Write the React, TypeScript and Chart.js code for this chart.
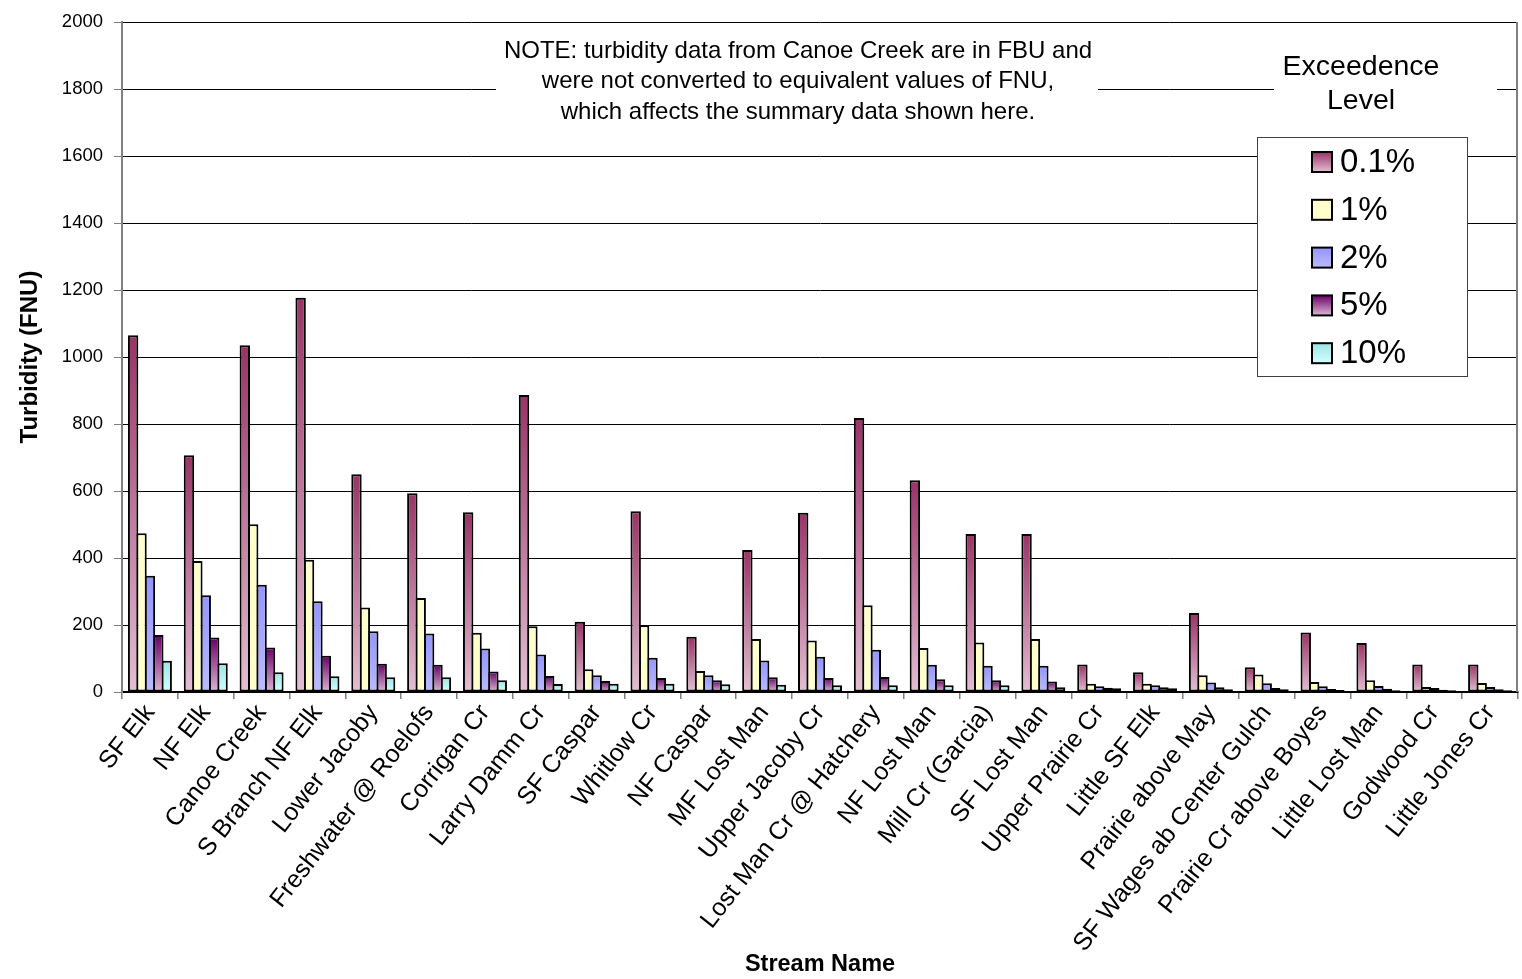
import { useEffect, useRef } from "react";
import { Chart, registerables } from "chart.js";

Chart.register(...registerables);

// Stream names along the x axis
const streams = [
  "SF Elk",
  "NF Elk",
  "Canoe Creek",
  "S Branch NF Elk",
  "Lower Jacoby",
  "Freshwater @ Roelofs",
  "Corrigan Cr",
  "Larry Damm Cr",
  "SF Caspar",
  "Whitlow Cr",
  "NF Caspar",
  "MF Lost Man",
  "Upper Jacoby Cr",
  "Lost Man Cr @ Hatchery",
  "NF Lost Man",
  "Mill Cr (Garcia)",
  "SF Lost Man",
  "Upper Prairie Cr",
  "Little SF Elk",
  "Prairie above May",
  "SF Wages ab Center Gulch",
  "Prairie Cr above Boyes",
  "Little Lost Man",
  "Godwood Cr",
  "Little Jones Cr",
];

// Turbidity (FNU) at each exceedence level
const exceed01 = [1065, 707, 1035, 1177, 650, 593, 537, 887, 210, 540, 165, 424, 535, 818, 632, 472, 472, 82, 59, 236, 74, 178, 146, 82, 82];
const exceed1 = [474, 391, 501, 395, 252, 281, 177, 196, 68, 199, 63, 158, 154, 259, 131, 148, 158, 25, 25, 50, 52, 30, 35, 15, 27];
const exceed2 = [347, 289, 320, 271, 181, 175, 130, 112, 50, 102, 50, 94, 105, 126, 81, 78, 78, 17, 20, 28, 26, 17, 18, 12, 15];
const exceed5 = [170, 163, 133, 108, 84, 81, 61, 48, 33, 42, 35, 44, 42, 45, 38, 35, 31, 13, 14, 14, 12, 9, 10, 7, 8];
const exceed10 = [93, 86, 59, 47, 44, 44, 35, 24, 25, 25, 23, 22, 20, 20, 20, 20, 14, 11, 11, 8, 8, 6, 5, 5, 5];

const levelLabels = ["0.1%", "1%", "2%", "5%", "10%"];
const levelValues = [exceed01, exceed1, exceed2, exceed5, exceed10];

// Vertical fill ramps (top colour, bottom colour) for each level
const levelTop = ["#993366", "#FFFFCC", "#9494FF", "#660066", "#9FE3E3"];
const levelBottom = ["#E3BFD3", "#FFFFCC", "#BBBBFF", "#E0B6D6", "#D2FFFF"];

const noteLines = [
  "NOTE: turbidity data from Canoe Creek are in FBU and",
  "were not converted to equivalent values of FNU,",
  "which affects the summary data shown here.",
];
const legendTitle = ["Exceedence", "Level"];

const yMin = 0;
const yMax = 2000;
const yStep = 200;

const FONT = '"Liberation Sans", Arial, Helvetica, sans-serif';

function barFill(top: string, bottom: string) {
  return (ctx: any) => {
    const chart = ctx.chart;
    const y = chart.scales && chart.scales.y;
    if (!y || ctx.type !== "data") return top;
    const v = ctx.raw as number;
    const y0 = y.getPixelForValue(0);
    const y1 = y.getPixelForValue(v);
    if (!isFinite(y0) || !isFinite(y1) || y0 === y1) return top;
    const g = chart.ctx.createLinearGradient(0, y1, 0, y0);
    g.addColorStop(0, top);
    g.addColorStop(1, bottom);
    return g;
  };
}

const overlayPlugin = {
  id: "overlay",
  afterDraw(chart: any) {
    const { ctx, chartArea } = chart;
    ctx.save();

    // right edge of the plot area
    ctx.strokeStyle = "#808080";
    ctx.lineWidth = 2;
    ctx.beginPath();
    ctx.moveTo(chartArea.right - 1, chartArea.top);
    ctx.lineTo(chartArea.right - 1, chartArea.bottom);
    ctx.stroke();

    // note block
    ctx.fillStyle = "#ffffff";
    ctx.fillRect(496, 34, 602, 92);
    ctx.fillStyle = "#000000";
    ctx.font = `24px ${FONT}`;
    ctx.textAlign = "center";
    ctx.textBaseline = "middle";
    noteLines.forEach((line, i) => ctx.fillText(line, 798, 51 + i * 30.5));

    // legend title
    ctx.fillStyle = "#ffffff";
    ctx.fillRect(1274, 44, 223, 78);
    ctx.fillStyle = "#000000";
    ctx.font = `28.5px ${FONT}`;
    legendTitle.forEach((line, i) => ctx.fillText(line, 1361, 67 + i * 34));

    // legend box
    const bx = 1257.5;
    const by = 137.5;
    const bw = 210;
    const bh = 239;
    ctx.fillStyle = "#ffffff";
    ctx.fillRect(bx, by, bw, bh);
    ctx.strokeStyle = "#404040";
    ctx.lineWidth = 1;
    ctx.strokeRect(bx, by, bw, bh);

    ctx.textAlign = "left";
    ctx.font = `33px ${FONT}`;
    levelLabels.forEach((label, i) => {
      const cy = 162 + i * 47.8;
      const sx = 1312;
      const sy = cy - 10;
      const g = ctx.createLinearGradient(0, sy, 0, sy + 20);
      g.addColorStop(0, levelTop[i]);
      g.addColorStop(1, levelBottom[i]);
      ctx.fillStyle = g;
      ctx.fillRect(sx, sy, 20, 20);
      ctx.strokeStyle = "#000000";
      ctx.lineWidth = 2;
      ctx.strokeRect(sx, sy, 20, 20);
      ctx.fillStyle = "#000000";
      ctx.fillText(label, 1340, cy + 1);
    });

    ctx.restore();
  },
};

export default function App() {
  const canvasRef = useRef<HTMLCanvasElement | null>(null);

  useEffect(() => {
    const canvas = canvasRef.current;
    if (!canvas) return;

    const stride = (55.84 * 0.752) / 5;
    const barPct = (stride + 2) / stride;

    const chart = new Chart(canvas, {
      type: "bar",
      data: {
        labels: streams,
        datasets: levelLabels.map((label, i) => ({
          label,
          data: levelValues[i],
          backgroundColor: barFill(levelTop[i], levelBottom[i]),
          borderColor: "#000000",
          borderWidth: 2,
          borderSkipped: false,
          categoryPercentage: 0.752,
          barPercentage: barPct,
        })),
      },
      options: {
        responsive: false,
        animation: false,
        events: [],
        layout: { padding: { left: 0, right: 4, top: 19, bottom: 0 } },
        plugins: {
          legend: { display: false },
          tooltip: { enabled: false },
        },
        scales: {
          x: {
            grid: {
              display: true,
              drawOnChartArea: false,
              drawTicks: true,
              offset: true,
              tickLength: 7,
              color: "#808080",
              lineWidth: 1.5,
            },
            border: { display: true, color: "#000000", width: 2 },
            ticks: {
              autoSkip: false,
              maxRotation: 52,
              minRotation: 52,
              padding: 0,
              color: "#000000",
              font: { family: FONT, size: 25 },
            },
            title: {
              display: true,
              text: "Stream Name",
              color: "#000000",
              font: { family: FONT, size: 23.5, weight: "bold" },
              padding: { top: 0, bottom: 0 },
            },
            afterFit(scale: any) {
              scale.height = 979 - 692;
            },
          },
          y: {
            min: yMin,
            max: yMax,
            ticks: {
              stepSize: yStep,
              padding: 11,
              color: "#000000",
              font: { family: FONT, size: 18.5 },
              callback: (value: any) => String(value),
            },
            grid: {
              color: "#000000",
              lineWidth: 1,
              tickLength: 8,
              tickColor: "#808080",
            },
            border: { display: true, color: "#808080", width: 2 },
            title: {
              display: true,
              text: "Turbidity (FNU)",
              color: "#000000",
              font: { family: FONT, size: 24, weight: "bold" },
              padding: { top: 16, bottom: 0 },
            },
            afterFit(scale: any) {
              scale.width = 122;
            },
          },
        },
      },
      plugins: [overlayPlugin],
    });

    return () => chart.destroy();
  }, []);

  return (
    <div style={{ position: "fixed", left: 0, top: 0, width: 1522, height: 979, background: "#ffffff" }}>
      <canvas ref={canvasRef} width={1522} height={979} style={{ display: "block" }} />
    </div>
  );
}
